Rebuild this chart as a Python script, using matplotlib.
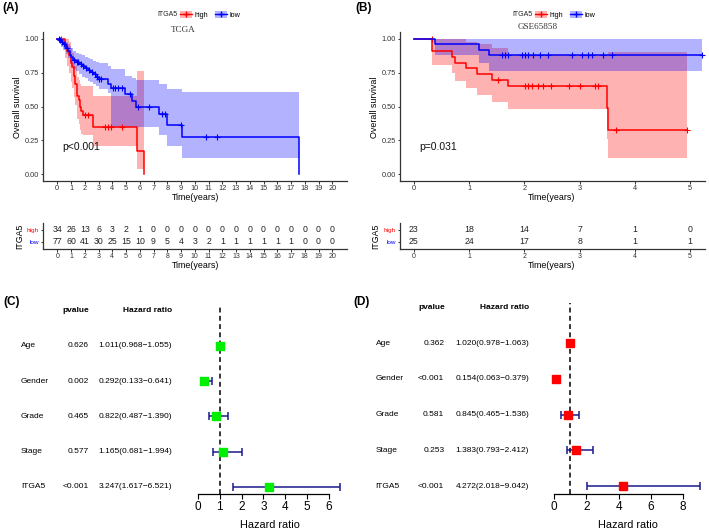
import numpy as np
import matplotlib
matplotlib.use("Agg")
import matplotlib.pyplot as plt
import matplotlib.transforms as mtransforms
from matplotlib.patches import Patch
from matplotlib.lines import Line2D
from matplotlib.legend_handler import HandlerTuple

W, H = 709, 531
plt.rcParams["font.family"] = ["Liberation Sans", "DejaVu Sans"]

RED = "#FF0000"
BLUE = "#0000FF"

# ---------------------------------------------------------------------------
# (A) TCGA Kaplan-Meier
# ---------------------------------------------------------------------------
tcga_high_t = [0, 0.55, 0.7, 0.85, 1.0, 1.1, 1.2, 1.3, 1.4, 1.45, 1.55, 1.65, 1.75, 1.9, 2.62, 5.82, 6.3]
tcga_high_s = [1.0, 0.95, 0.91, 0.88, 0.82, 0.79, 0.73, 0.67, 0.61, 0.58, 0.55, 0.50, 0.47, 0.44, 0.35, 0.17, 0.0]
tcga_high_lo = [1.0, 0.86, 0.80, 0.75, 0.68, 0.64, 0.57, 0.51, 0.44, 0.41, 0.37, 0.33, 0.30, 0.29, 0.21, 0.04, 0.04]
tcga_high_hi = [1.0, 1.0, 1.0, 0.98, 0.93, 0.90, 0.85, 0.80, 0.75, 0.72, 0.70, 0.67, 0.65, 0.65, 0.58, 0.76, 0.76]
tcga_high_cens = [0.25, 2.0, 2.2, 3.5, 3.7, 3.9, 4.7]

tcga_low_t = [0, 0.15, 0.3, 0.45, 0.6, 0.75, 0.9, 1.0, 1.15, 1.35, 1.6, 1.8, 2.0, 2.2, 2.4, 2.6,
              2.8, 3.0, 3.7, 3.9, 4.9, 5.4, 5.7, 7.4, 7.95, 9.1, 17.58]
tcga_low_s = [1.0, 0.99, 0.975, 0.96, 0.935, 0.91, 0.885, 0.87, 0.845, 0.83, 0.815, 0.80, 0.785, 0.77,
              0.755, 0.74, 0.72, 0.705, 0.67, 0.635, 0.595, 0.545, 0.495, 0.445, 0.365, 0.273, 0.0]
tcga_low_lo = [1.0, 0.97, 0.94, 0.92, 0.89, 0.86, 0.83, 0.80, 0.78, 0.76, 0.74, 0.72, 0.71, 0.69,
               0.68, 0.67, 0.65, 0.63, 0.60, 0.35, 0.35, 0.35, 0.35, 0.29, 0.21, 0.123, 0.123]
tcga_low_hi = [1.0, 1.0, 1.0, 0.99, 0.98, 0.96, 0.95, 0.93, 0.91, 0.90, 0.89, 0.88, 0.87, 0.86,
               0.85, 0.84, 0.83, 0.82, 0.80, 0.78, 0.73, 0.71, 0.70, 0.67, 0.63, 0.606, 0.606]
tcga_low_cens = [0.1, 0.2, 0.35, 0.5, 0.7, 1.2, 1.4, 1.5, 1.7, 1.9, 2.1, 2.3, 2.5, 2.75, 2.9, 3.05,
                 3.2, 4.05, 4.2, 4.4, 4.7, 5.3, 5.85, 6.7, 7.6, 7.85, 9.0, 10.8, 11.6]

tcga_years = list(range(0, 21))
tcga_risk_high = [34, 26, 13, 6, 3, 2, 1, 0, 0, 0, 0, 0, 0, 0, 0, 0, 0, 0, 0, 0, 0]
tcga_risk_low = [77, 60, 41, 30, 25, 15, 10, 9, 5, 4, 3, 2, 1, 1, 1, 1, 1, 1, 0, 0, 0]

# ---------------------------------------------------------------------------
# (B) GSE65858 Kaplan-Meier
# ---------------------------------------------------------------------------
gse_high_t = [0, 0.33, 0.69, 0.75, 0.94, 1.15, 1.42, 1.70, 3.49, 3.52, 4.95]
gse_high_s = [1.0, 0.913, 0.87, 0.826, 0.783, 0.739, 0.696, 0.65, 0.49, 0.33, 0.33]
gse_high_lo = [1.0, 0.81, 0.75, 0.69, 0.637, 0.583, 0.535, 0.483, 0.26, 0.123, 0.123]
gse_high_hi = [1.0, 1.0, 1.0, 1.0, 0.98, 0.96, 0.93, 0.88, 0.88, 0.905, 0.905]
gse_high_cens = [0.32, 1.52, 2.01, 2.07, 2.13, 2.24, 2.34, 2.49, 2.81, 3.01, 3.27, 3.33, 3.66, 4.95]

gse_low_t = [0, 0.39, 1.17, 1.36, 5.22]
gse_low_s = [1.0, 0.96, 0.92, 0.885, 0.885]
gse_low_lo = [1.0, 0.88, 0.82, 0.765, 0.765]
gse_low_hi = [1.0, 1.0, 1.0, 1.0, 1.0]
gse_low_cens = [1.59, 1.65, 1.71, 1.95, 2.01, 2.07, 2.16, 2.28, 2.43, 2.86, 3.04, 3.16, 3.22,
                3.43, 3.58, 5.21]

gse_years = [0, 1, 2, 3, 4, 5]
gse_risk_high = [23, 18, 14, 7, 1, 0]
gse_risk_low = [25, 24, 17, 8, 1, 1]

# ---------------------------------------------------------------------------
# (C) / (D) multivariate Cox forest plots
# ---------------------------------------------------------------------------
variables = ["Age", "Gender", "Grade", "Stage", "ITGA5"]

tcga_pvalue = ["0.626", "0.002", "0.465", "0.577", "<0.001"]
tcga_hr = [1.011, 0.292, 0.822, 1.165, 3.247]
tcga_hr_lo = [0.968, 0.133, 0.487, 0.681, 1.617]
tcga_hr_hi = [1.055, 0.641, 1.390, 1.994, 6.521]

gse_pvalue = ["0.362", "<0.001", "0.581", "0.253", "<0.001"]
gse_hr = [1.020, 0.154, 0.845, 1.383, 4.272]
gse_hr_lo = [0.978, 0.063, 0.465, 0.793, 2.018]
gse_hr_hi = [1.063, 0.379, 1.536, 2.412, 9.042]


fig = plt.figure(figsize=(W / 100, H / 100), dpi=100)


def px_axes(x0, y0, x1, y1):
    return fig.add_axes([x0 / W, 1 - y1 / H, (x1 - x0) / W, (y1 - y0) / H])


def ftext(x, y, s, **kw):
    return fig.text(x / W, 1 - y / H, s, **kw)


def step_at(t, times, surv):
    idx = np.searchsorted(times, t, side="right") - 1
    return np.asarray(surv)[idx]


def style_axes(ax, tick_size=5.3):
    for side in ["top", "right"]:
        ax.spines[side].set_visible(False)
    for side in ["left", "bottom"]:
        ax.spines[side].set_color("#333333")
        ax.spines[side].set_linewidth(0.9)
    ax.tick_params(length=1.8, width=0.7, color="#333333", pad=1.0,
                   labelsize=tick_size, labelcolor="#333333")


def km_panel(ax, groups, xlim, xticks):
    for t, s, lo, hi, cens, col in groups:
        ax.fill_between(t, lo, hi, step="post", color=col, alpha=0.3, lw=0)
    for t, s, lo, hi, cens, col in groups:
        ax.step(t, s, where="post", color=col, lw=1.1)
        ax.plot(cens, step_at(cens, t, s), "+", color=col, ms=4, mew=0.8)
    ax.set_xlim(*xlim)
    ax.set_ylim(-0.05, 1.05)
    ax.set_xticks(xticks)
    ax.set_yticks([0, 0.25, 0.5, 0.75, 1.0])
    ax.set_yticklabels(["0.00", "0.25", "0.50", "0.75", "1.00"])
    style_axes(ax)


def risk_table(ax, years, high, low, xlim):
    for yr, n in zip(years, high):
        ax.text(yr, 2, str(n), ha="center", va="center", fontsize=6.3, color="#222222")
    for yr, n in zip(years, low):
        ax.text(yr, 1, str(n), ha="center", va="center", fontsize=6.3, color="#222222")
    ax.set_xlim(*xlim)
    ax.set_ylim(0.4, 2.6)
    ax.set_xticks(years)
    ax.set_yticks([2, 1])
    ax.set_yticklabels(["high", "low"])
    style_axes(ax, tick_size=5.0)
    ax.tick_params(axis="y", labelsize=4.6)
    ax.get_yticklabels()[0].set_color(RED)
    ax.get_yticklabels()[1].set_color(BLUE)


def legend(x_title, x_keys):
    ftext(x_title, 15, "ITGA5", ha="left", va="center", fontsize=5, color="#222222")
    handles = [
        (Patch(facecolor=RED, alpha=0.3, lw=0), Line2D([], [], color=RED, lw=1, marker="+", ms=4)),
        (Patch(facecolor=BLUE, alpha=0.3, lw=0), Line2D([], [], color=BLUE, lw=1, marker="+", ms=4)),
    ]
    fig.legend(handles, ["high", "low"], handler_map={tuple: HandlerTuple(ndivide=1)},
               loc="center left", bbox_to_anchor=(x_keys / W, 1 - 15 / H), ncol=2,
               frameon=False, fontsize=5.2, handlelength=1.6, handleheight=1.2,
               handletextpad=0.4, columnspacing=1.0, borderpad=0, borderaxespad=0)


# ---- (A) ----
axA = px_axes(43, 32.2, 347, 181.1)
km_panel(axA, [
    (tcga_high_t, tcga_high_s, tcga_high_lo, tcga_high_hi, tcga_high_cens, RED),
    (tcga_low_t, tcga_low_s, tcga_low_lo, tcga_low_hi, tcga_low_cens, BLUE),
], (-1.04, 21.07), tcga_years)
axA.text(0.35, 0.2, "p<0.001", ha="left", va="center", fontsize=7.5, color="#111111")
ftext(183, 30, "TCGA", ha="center", va="center", family="Liberation Serif",
      fontsize=6.6, color="#333333")
legend(157, 180)
ftext(18, 107, "Overall survival", rotation=90, ha="center", va="center", fontsize=6.4)
ftext(195.5, 197, "Time(years)", ha="center", va="center", fontsize=6.4)

axAt = px_axes(43, 222.8, 347, 249.2)
risk_table(axAt, tcga_years, tcga_risk_high, tcga_risk_low, (-1.04, 21.07))
ftext(20, 236, "ITGA5", rotation=90, ha="center", va="center", fontsize=6.3)
ftext(195.5, 266, "Time(years)", ha="center", va="center", fontsize=6.4)

# ---- (B) ----
axB = px_axes(399.6, 32.2, 705, 181.1)
km_panel(axB, [
    (gse_high_t, gse_high_s, gse_high_lo, gse_high_hi, gse_high_cens, RED),
    (gse_low_t, gse_low_s, gse_low_lo, gse_low_hi, gse_low_cens, BLUE),
], (-0.26, 5.27), gse_years)
axB.text(0.09, 0.2, "p=0.031", ha="left", va="center", fontsize=7.5, color="#111111")
ftext(538, 27, "GSE65858", ha="center", va="center", family="Liberation Serif",
      fontsize=6.6, color="#333333")
legend(512, 535)
ftext(375, 107, "Overall survival", rotation=90, ha="center", va="center", fontsize=6.4)
ftext(551.7, 197, "Time(years)", ha="center", va="center", fontsize=6.4)

axBt = px_axes(399.6, 222.8, 705, 249.2)
risk_table(axBt, gse_years, gse_risk_high, gse_risk_low, (-0.26, 5.27))
ftext(376, 236, "ITGA5", rotation=90, ha="center", va="center", fontsize=6.3)
ftext(551.7, 266, "Time(years)", ha="center", va="center", fontsize=6.4)


# ---- forest plots ----
def forest(ax, pvals, hr, lo, hi, color, xlim, ylim, xmax, xticks, x_label, x_p, x_hr):
    rows = np.arange(len(variables), 0, -1)
    hr = np.asarray(hr)
    ax.axvline(1, color="black", lw=1.1, ls=(0, (3.2, 2.2)), zorder=1)
    ax.errorbar(hr, rows, xerr=[hr - np.asarray(lo), np.asarray(hi) - hr], fmt="none",
                ecolor="#1A1A8C", elinewidth=1.1, capsize=2.9, capthick=1.1, zorder=2)
    ax.plot(hr, rows, "s", color=color, ms=5.8, mec=color, zorder=3)
    ax.set_xlim(*xlim)
    ax.set_ylim(*ylim)
    for side in ["top", "right", "left"]:
        ax.spines[side].set_visible(False)
    ax.spines["bottom"].set_bounds(0, xmax)
    ax.spines["bottom"].set_linewidth(0.9)
    ax.set_yticks([])
    ax.set_xticks(xticks)
    ax.tick_params(axis="x", length=3.5, width=0.8, pad=1.5, labelsize=8.5)

    tr = mtransforms.blended_transform_factory(fig.transFigure, ax.transData)
    ax.text(x_p / W - 13 / W, 6, "pvalue", transform=tr, ha="center", va="center",
            fontsize=6, fontweight="bold")
    ax.text(x_hr / W, 6, "Hazard ratio", transform=tr, ha="right", va="center",
            fontsize=6, fontweight="bold")
    for r, name, p, h, l, u in zip(rows, variables, pvals, hr, lo, hi):
        ax.text(x_label / W, r, name, transform=tr, ha="left", va="center", fontsize=6)
        ax.text(x_p / W, r, p, transform=tr, ha="right", va="center", fontsize=6)
        ax.text(x_hr / W, r, f"{h:.3f}({l:.3f}\u2212{u:.3f})", transform=tr, ha="right",
                va="center", fontsize=6)


axC = px_axes(190, 305, 345, 494)
forest(axC, tcga_pvalue, tcga_hr, tcga_hr_lo, tcga_hr_hi, "#00EE00",
       ((190 - 198) / 21.83, (345 - 198) / 21.83), (0.801, 6.163), 6, range(0, 7),
       21, 89, 172)
ftext(269.7, 525, "Hazard ratio", ha="center", va="center", fontsize=7.8)

axD = px_axes(546, 303, 705, 494)
forest(axD, gse_pvalue, gse_hr, gse_hr_lo, gse_hr_hi, "#FF0000",
       ((546 - 554) / 16.125, (705 - 554) / 16.125), (0.776, 6.126), 8, range(0, 9, 2),
       375.7, 444.3, 529)
ftext(628.3, 525, "Hazard ratio", ha="center", va="center", fontsize=7.8)

# ---- panel tags ----
for tag, x, y in [("(A)", 2, 8), ("(B)", 355, 8), ("(C)", 3, 302), ("(D)", 353, 302)]:
    ftext(x, y, tag, ha="left", va="center", fontsize=8.5, fontweight="bold")

fig.savefig("out.png", dpi=100)
